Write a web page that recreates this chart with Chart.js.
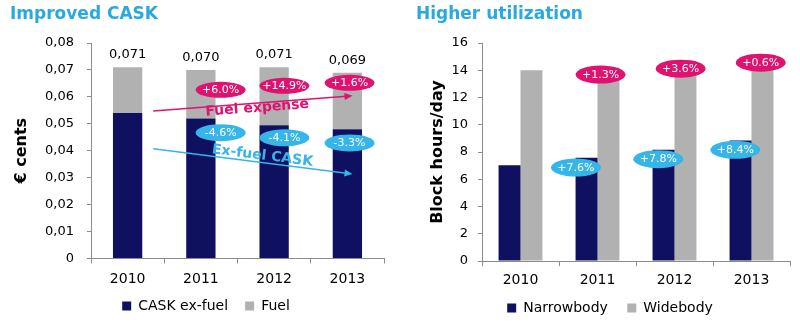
<!DOCTYPE html>
<html>
<head>
<meta charset="utf-8">
<script src="https://cdn.jsdelivr.net/npm/chart.js@4.4.0/dist/chart.umd.min.js"></script>
<style>
  body { margin: 0; background: #fff; }
  .panel { position: absolute; top: 0; width: 400px; height: 323px; }
  .head { position: absolute; top: 3px; font: bold 17px "DejaVu Sans", Verdana, sans-serif; color: #2aa9e0; }
</style>
</head>
<body>
<div class="panel" style="left:0"><canvas id="caskChart" width="400" height="323"></canvas></div>
<div class="panel" style="left:400px"><canvas id="utilChart" width="400" height="323"></canvas></div>
<div class="head" style="left:10px">Improved CASK</div>
<div class="head" style="left:416px">Higher utilization</div>

<script>
// CASK (€ cents)
const years = ["2010", "2011", "2012", "2013"];
const caskExFuel = [0.054, 0.052, 0.0495, 0.048];
const caskFuel = [0.017, 0.018, 0.0215, 0.021];
const caskTotal = [0.071, 0.070, 0.071, 0.069];
const fuelChange = ["+6.0%", "+14.9%", "+1.6%"];
const exFuelChange = ["-4.6%", "-4.1%", "-3.3%"];

// Block hours per day
const narrowbody = [7.04, 7.58, 8.16, 8.85];
const widebody = [14.0, 14.2, 14.7, 14.8];
const narrowChange = ["+7.6%", "+7.8%", "+8.4%"];
const wideChange = ["+1.3%", "+3.6%", "+0.6%"];

const NAVY = "#0f1160";
const GREY = "#b1b1b1";
const PINK = "#df1270";
const BLUE = "#35b5e8";
const FONT = "'DejaVu Sans', Verdana, sans-serif";

// bubble positions: [category index, value]
const caskPinkPos = [[1.27, 0.0626], [2.14, 0.0641], [3.03, 0.0652]];
const caskBluePos = [[1.27, 0.0467], [2.14, 0.0448], [3.03, 0.0429]];
const utilPinkPos = [[1.04, 13.68], [2.08, 14.12], [3.12, 14.56]];
const utilBluePos = [[0.72, 6.86], [1.79, 7.48], [2.79, 8.16]];

// trend arrows: from [index, value] to [index, value]
const fuelArrow = [[0.35, 0.0548], [3.07, 0.0604]];
const exFuelArrow = [[0.35, 0.0407], [3.07, 0.0314]];

function bubble(ctx, x, y, text, color, h) {
  ctx.save();
  ctx.fillStyle = color;
  ctx.beginPath();
  ctx.ellipse(x, y, 25, h / 2, 0, 0, Math.PI * 2);
  ctx.fill();
  ctx.fillStyle = "#fff";
  ctx.font = "11px " + FONT;
  ctx.textAlign = "center";
  ctx.textBaseline = "middle";
  ctx.fillText(text, x, y + 0.5);
  ctx.restore();
}

function arrow(ctx, x1, y1, x2, y2, color) {
  const a = Math.atan2(y2 - y1, x2 - x1);
  ctx.save();
  ctx.strokeStyle = color;
  ctx.fillStyle = color;
  ctx.lineWidth = 1.5;
  ctx.beginPath();
  ctx.moveTo(x1, y1);
  ctx.lineTo(x2 - 6 * Math.cos(a), y2 - 6 * Math.sin(a));
  ctx.stroke();
  ctx.translate(x2, y2);
  ctx.rotate(a);
  ctx.beginPath();
  ctx.moveTo(0, 0);
  ctx.lineTo(-8, -3.5);
  ctx.lineTo(-8, 3.5);
  ctx.closePath();
  ctx.fill();
  ctx.restore();
}

function arrowLabel(ctx, x, y, angle, text, color) {
  ctx.save();
  ctx.translate(x, y);
  ctx.rotate(angle);
  ctx.fillStyle = color;
  ctx.font = "bold 14px " + FONT;
  ctx.textAlign = "center";
  ctx.textBaseline = "middle";
  ctx.fillText(text, 0, 0);
  ctx.restore();
}

const caskDecor = {
  id: "caskDecor",
  afterDatasetsDraw(chart) {
    const ctx = chart.ctx;
    const xs = chart.scales.x, ys = chart.scales.y;
    const px = (p) => [xs.getPixelForValue(p[0]), ys.getPixelForValue(p[1])];

    // totals above stacks
    ctx.save();
    ctx.fillStyle = "#000";
    ctx.font = "13px " + FONT;
    ctx.textAlign = "center";
    ctx.textBaseline = "bottom";
    caskTotal.forEach((v, i) => {
      const top = ys.getPixelForValue(caskExFuel[i] + caskFuel[i]);
      ctx.fillText(v.toFixed(3).replace(".", ","), xs.getPixelForValue(i), top - 6);
    });
    ctx.restore();

    let [a1, a2] = [px(fuelArrow[0]), px(fuelArrow[1])];
    arrow(ctx, a1[0], a1[1], a2[0], a2[1], PINK);
    const fuelAng = Math.atan2(a2[1] - a1[1], a2[0] - a1[0]);
    [a1, a2] = [px(exFuelArrow[0]), px(exFuelArrow[1])];
    arrow(ctx, a1[0], a1[1], a2[0], a2[1], BLUE);
    const exAng = Math.atan2(a2[1] - a1[1], a2[0] - a1[0]);

    let t = px([1.77, 0.0558]);
    arrowLabel(ctx, t[0], t[1], fuelAng, "Fuel expense", PINK);
    t = px([1.84, 0.0381]);
    arrowLabel(ctx, t[0], t[1], exAng, "Ex-fuel CASK", BLUE);

    caskPinkPos.forEach((p, i) => { const q = px(p); bubble(ctx, q[0], q[1], fuelChange[i], PINK, 16); });
    caskBluePos.forEach((p, i) => { const q = px(p); bubble(ctx, q[0], q[1], exFuelChange[i], BLUE, 17); });
  }
};

const utilDecor = {
  id: "utilDecor",
  afterDatasetsDraw(chart) {
    const ctx = chart.ctx;
    const xs = chart.scales.x, ys = chart.scales.y;
    utilPinkPos.forEach((p, i) => bubble(ctx, xs.getPixelForValue(p[0]), ys.getPixelForValue(p[1]), wideChange[i], PINK, 18));
    utilBluePos.forEach((p, i) => bubble(ctx, xs.getPixelForValue(p[0]), ys.getPixelForValue(p[1]), narrowChange[i], BLUE, 18));
  }
};

// nudge the legend sideways without moving the plot
const legendShift = {
  id: "legendShift",
  afterInit(chart, args, opts) {
    const lg = chart.legend;
    const draw = lg.draw;
    lg.draw = function () {
      this.ctx.save();
      this.ctx.translate(opts.dx || 0, 0);
      draw.apply(this, arguments);
      this.ctx.restore();
    };
  }
};

function axisGrid() {
  return { drawOnChartArea: false, drawTicks: true, tickLength: 4, color: "#8c8c8c" };
}

// legend with a wider gap between the two entries
function legendOpts(pad) {
  return {
    position: "bottom",
    labels: {
      color: "#000",
      font: { family: FONT, size: 14 },
      boxWidth: 9,
      boxHeight: 9,
      padding: pad,
      generateLabels(chart) {
        const items = Chart.defaults.plugins.legend.labels.generateLabels(chart);
        items.forEach((it, i) => { if (i < items.length - 1) it.text += "   "; });
        return items;
      }
    }
  };
}

Chart.defaults.font.family = FONT;
Chart.defaults.animation = false;

new Chart(document.getElementById("caskChart").getContext("2d"), {
  type: "bar",
  data: {
    labels: years,
    datasets: [
      { label: "CASK ex-fuel", data: caskExFuel, backgroundColor: NAVY, categoryPercentage: 0.4, barPercentage: 1 },
      { label: "Fuel", data: caskFuel, backgroundColor: GREY, categoryPercentage: 0.4, barPercentage: 1 }
    ]
  },
  options: {
    responsive: false,
    layout: { padding: { top: 43, right: 16, left: 0, bottom: 0 } },
    plugins: { legend: legendOpts(3.7), legendShift: { dx: 14 }, tooltip: { enabled: false } },
    scales: {
      x: {
        stacked: true,
        grid: { ...axisGrid(), tickLength: 5 },
        border: { color: "#8c8c8c" },
        ticks: { color: "#000", font: { size: 14 }, padding: 7.5 }
      },
      y: {
        stacked: true,
        min: 0,
        max: 0.08,
        grid: axisGrid(),
        border: { color: "#8c8c8c" },
        ticks: {
          stepSize: 0.01,
          color: "#000",
          font: { size: 13 },
          padding: 13,
          callback: (v) => (v === 0 ? "0" : v.toFixed(2).replace(".", ","))
        },
        title: { display: true, text: "€ cents", color: "#000", font: { size: 16, weight: "bold" }, padding: { top: 12, bottom: 0 } },
        afterFit: (s) => { s.width = 91; }
      }
    }
  },
  plugins: [caskDecor, legendShift]
});

new Chart(document.getElementById("utilChart").getContext("2d"), {
  type: "bar",
  data: {
    labels: years,
    datasets: [
      { label: "Narrowbody", data: narrowbody, backgroundColor: NAVY, categoryPercentage: 0.57, barPercentage: 1 },
      { label: "Widebody", data: widebody, backgroundColor: GREY, categoryPercentage: 0.57, barPercentage: 1 }
    ]
  },
  options: {
    responsive: false,
    layout: { padding: { top: 43, right: 10, left: 0, bottom: -2 } },
    plugins: { legend: legendOpts(6.1), legendShift: { dx: 15 }, tooltip: { enabled: false } },
    scales: {
      x: {
        grid: { ...axisGrid(), tickLength: 5 },
        border: { color: "#8c8c8c" },
        ticks: { color: "#000", font: { size: 14 }, padding: 6 }
      },
      y: {
        min: 0,
        max: 16,
        grid: axisGrid(),
        border: { color: "#8c8c8c" },
        ticks: { stepSize: 2, color: "#000", font: { size: 13 }, padding: 10 },
        title: { display: true, text: "Block hours/day", color: "#000", font: { size: 16, weight: "bold" }, padding: { top: 28, bottom: 0 } },
        afterFit: (s) => { s.width = 82; }
      }
    }
  },
  plugins: [utilDecor, legendShift]
});
</script>
</body>
</html>
